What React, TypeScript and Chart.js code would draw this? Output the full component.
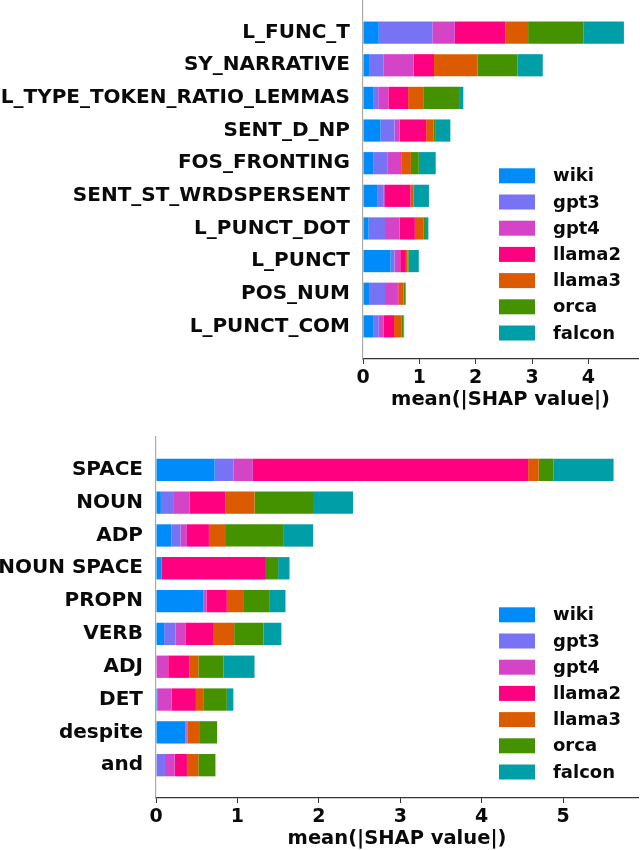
import React, { useEffect, useRef } from "react";
import { Chart, registerables } from "chart.js";

Chart.register(...registerables);

// model order in each stacked bar (left to right) and their colours
const models = ["wiki", "gpt3", "gpt4", "llama2", "llama3", "orca", "falcon"];
const modelColors = ["#008bfb", "#7873f5", "#d544c7", "#ff0080", "#dc5a00", "#449200", "#009ea6"];

// upper panel: stylometric features
const topFeatures = [
  "L_FUNC_T",
  "SY_NARRATIVE",
  "L_TYPE_TOKEN_RATIO_LEMMAS",
  "SENT_D_NP",
  "FOS_FRONTING",
  "SENT_ST_WRDSPERSENT",
  "L_PUNCT_DOT",
  "L_PUNCT",
  "POS_NUM",
  "L_PUNCT_COM",
];
const topWiki = [0.28, 0.12, 0.19, 0.31, 0.19, 0.25, 0.1, 0.49, 0.12, 0.19];
const topGpt3 = [0.95, 0.24, 0.08, 0.25, 0.24, 0.11, 0.29, 0.07, 0.27, 0.09];
const topGpt4 = [0.4, 0.54, 0.18, 0.09, 0.23, 0.03, 0.26, 0.1, 0.23, 0.09];
const topLlama2 = [0.9, 0.36, 0.35, 0.47, 0.02, 0.45, 0.27, 0.1, 0.01, 0.18];
const topLlama3 = [0.4, 0.77, 0.28, 0.13, 0.17, 0.05, 0.15, 0.03, 0.09, 0.13];
const topOrca = [0.98, 0.71, 0.64, 0.03, 0.14, 0.01, 0.03, 0.02, 0.03, 0.04];
const topFalcon = [0.72, 0.45, 0.06, 0.27, 0.3, 0.27, 0.06, 0.18, 0.01, 0.01];
const topTicks = [0, 1, 2, 3, 4];

// lower panel: POS / token features
const bottomFeatures = ["SPACE", "NOUN", "ADP", "NOUN SPACE", "PROPN", "VERB", "ADJ", "DET", "despite", "and"];
const botWiki = [0.72, 0.06, 0.19, 0.07, 0.58, 0.1, 0.0, 0.02, 0.36, 0.0];
const botGpt3 = [0.23, 0.16, 0.11, 0.0, 0.01, 0.14, 0.0, 0.0, 0.01, 0.11];
const botGpt4 = [0.24, 0.19, 0.08, 0.0, 0.03, 0.12, 0.15, 0.17, 0.02, 0.12];
const botLlama2 = [3.38, 0.44, 0.27, 1.28, 0.25, 0.34, 0.26, 0.3, 0.0, 0.15];
const botLlama3 = [0.13, 0.36, 0.21, 0.0, 0.2, 0.26, 0.11, 0.09, 0.15, 0.14];
const botOrca = [0.18, 0.73, 0.71, 0.15, 0.32, 0.36, 0.31, 0.29, 0.21, 0.21];
const botFalcon = [0.74, 0.48, 0.36, 0.14, 0.2, 0.22, 0.38, 0.08, 0.0, 0.0];
const bottomTicks = [0, 1, 2, 3, 4, 5];

const FONT = "'DejaVu Sans', sans-serif";

// legend drawn inside the plot, anchored to the lower right corner
const insideLegend = {
  id: "insideLegend",
  afterDraw(chart: any) {
    const { ctx, chartArea } = chart;
    const sets = chart.data.datasets;
    const left = chartArea.right - 139;
    const step = 26.2;
    ctx.save();
    ctx.font = `bold 18px ${FONT}`;
    ctx.textBaseline = "middle";
    ctx.textAlign = "left";
    sets.forEach((ds: any, i: number) => {
      const cy = chartArea.bottom - 26 - (sets.length - 1 - i) * step;
      ctx.fillStyle = ds.backgroundColor;
      ctx.fillRect(left, cy - 7.5, 36, 15);
      ctx.fillStyle = "#0a0a0a";
      ctx.fillText(ds.label, left + 54, cy + 1);
    });
    ctx.restore();
  },
};

type PanelProps = {
  features: string[];
  series: number[][];
  ticks: number[];
  xMax: number;
  height: number;
  padTop: number;
  axisWidth: number;
  axisHeight: number;
  titlePad: number;
};

const ShapPanel: React.FC<PanelProps> = ({ features, series, ticks, xMax, height, padTop, axisWidth, axisHeight, titlePad }) => {
  const canvasRef = useRef<HTMLCanvasElement | null>(null);
  const chartRef = useRef<Chart | null>(null);

  useEffect(() => {
    const ctx = canvasRef.current?.getContext("2d");
    if (!ctx) return;
    if (chartRef.current) chartRef.current.destroy();

    // an empty slot above and below the bars, like matplotlib's ylim
    const labels = ["", ...features, ""];

    chartRef.current = new Chart(ctx, {
      type: "bar",
      data: {
        labels,
        datasets: models.map((m, i) => ({
          label: m,
          data: [null, ...series[i], null],
          backgroundColor: modelColors[i],
          borderWidth: 0,
          categoryPercentage: 1,
          barPercentage: 0.68,
        })),
      },
      options: {
        indexAxis: "y",
        animation: false,
        responsive: true,
        maintainAspectRatio: false,
        layout: { padding: { top: padTop, right: 2, left: 0, bottom: 0 } },
        plugins: { legend: { display: false }, tooltip: { enabled: false } },
        scales: {
          x: {
            stacked: true,
            min: 0,
            max: xMax,
            afterBuildTicks: (scale: any) => {
              scale.ticks = ticks.map((v) => ({ value: v }));
            },
            afterFit: (scale: any) => {
              scale.height = axisHeight;
              scale.paddingLeft = 0;
              scale.paddingRight = 0;
            },
            grid: { display: true, drawOnChartArea: false, drawTicks: true, tickLength: 5, color: "#333" },
            border: { display: true, color: "#333", width: 1.2 },
            ticks: {
              padding: 3,
              color: "#0a0a0a",
              font: { family: FONT, size: 19, weight: "bold" },
            },
            title: {
              display: true,
              text: "mean(|SHAP value|)",
              color: "#0a0a0a",
              font: { family: FONT, size: 19.5, weight: "bold", lineHeight: 1.0 },
              padding: { top: 0, bottom: titlePad },
            },
          },
          y: {
            stacked: true,
            offset: false,
            afterFit: (scale: any) => {
              scale.width = axisWidth;
              scale.paddingTop = 0;
              scale.paddingBottom = 0;
            },
            grid: { display: false },
            border: { display: true, color: "#aaa", width: 1.2 },
            ticks: {
              padding: 5,
              autoSkip: false,
              color: "#0a0a0a",
              font: { family: FONT, size: 20, weight: "bold" },
            },
          },
        },
      },
      plugins: [insideLegend],
    } as any);

    return () => {
      if (chartRef.current) {
        chartRef.current.destroy();
        chartRef.current = null;
      }
    };
  }, []);

  return (
    <div style={{ position: "relative", width: 640, height }}>
      <canvas ref={canvasRef} />
    </div>
  );
};

const App: React.FC = () => {
  return (
    <div style={{ position: "absolute", left: 0, top: 0, width: 640, height: 850, background: "#fff" }}>
      <ShapPanel
        features={topFeatures}
        series={[topWiki, topGpt3, topGpt4, topLlama2, topLlama3, topOrca, topFalcon]}
        ticks={topTicks}
        xMax={4.88}
        height={420}
        padTop={0}
        axisWidth={363}
        axisHeight={61}
        titlePad={10}
      />
      <div style={{ height: 5 }} />
      <ShapPanel
        features={bottomFeatures}
        series={[botWiki, botGpt3, botGpt4, botLlama2, botLlama3, botOrca, botFalcon]}
        ticks={bottomTicks}
        xMax={5.92}
        height={425}
        padTop={12}
        axisWidth={156}
        axisHeight={52}
        titlePad={1}
      />
    </div>
  );
};

export default App;
